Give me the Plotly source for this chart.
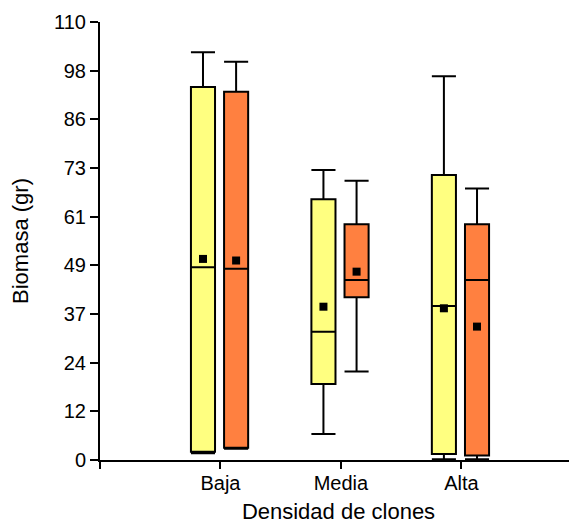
import plotly.graph_objects as go

categories = ["Baja", "Media", "Alta"]
y_tick_values = [0, 12.22, 24.44, 36.67, 48.89, 61.11, 73.33, 85.56, 97.78, 110]
y_tick_labels = ["0", "12", "24", "37", "49", "61", "73", "86", "98", "110"]

yellow_upper = [102.4, 72.8, 96.4]
yellow_q3 = [93.7, 65.5, 71.6]
yellow_median = [48.4, 32.2, 38.7]
yellow_mean = [50.5, 38.5, 38.1]
yellow_q1 = [2.1, 19.1, 1.5]
yellow_lower = [1.7, 6.5, 0.2]

orange_upper = [100.0, 70.1, 68.2]
orange_q3 = [92.5, 59.2, 59.2]
orange_median = [48.0, 45.2, 45.2]
orange_mean = [50.1, 47.3, 33.5]
orange_q1 = [3.1, 40.9, 1.1]
orange_lower = [2.8, 22.2, 0.2]

YELLOW = "#FFFF80"
ORANGE = "#FF8040"
FONT = "Liberation Sans"

idx = list(range(len(categories)))
off_y, off_o = -0.145, 0.13
xy = [i + off_y for i in idx]
xo = [i + off_o for i in idx]

fig = go.Figure()
for xs, q1, med, q3, lo, up, col in [
    (xy, yellow_q1, yellow_median, yellow_q3, yellow_lower, yellow_upper, YELLOW),
    (xo, orange_q1, orange_median, orange_q3, orange_lower, orange_upper, ORANGE),
]:
    fig.add_trace(go.Box(
        x=xs, q1=q1, median=med, q3=q3, lowerfence=lo, upperfence=up,
        width=0.2, whiskerwidth=1, fillcolor=col,
        line=dict(color="black", width=2), boxpoints=False,
        hoverinfo="skip", showlegend=False,
    ))
for xs, mean in [(xy, yellow_mean), (xo, orange_mean)]:
    fig.add_trace(go.Scatter(
        x=xs, y=mean, mode="markers",
        marker=dict(symbol="square", size=8, color="black"),
        showlegend=False, hoverinfo="skip",
    ))

# the page body adds an 8px offset, so the figure is sized to the visible area
fig.update_layout(
    width=569, height=516,
    margin=dict(l=92, r=0, t=14, b=64),
    plot_bgcolor="white", paper_bgcolor="white",
    font=dict(family=FONT, color="black"),
    xaxis=dict(
        range=[-1.0, 2.96], showgrid=False, zeroline=False, automargin=False,
        showline=True, linecolor="black", linewidth=2,
        tickvals=[-1] + idx, ticktext=[""] + categories,
        ticks="outside", ticklen=7, tickwidth=2, tickcolor="black",
        tickfont=dict(size=20), ticklabelstandoff=-3,
        title=dict(text="Densidad de clones", font=dict(size=22), standoff=19),
    ),
    yaxis=dict(
        range=[0, 110], showgrid=False, zeroline=False, automargin=False,
        showline=True, linecolor="black", linewidth=2,
        tickvals=y_tick_values, ticktext=y_tick_labels,
        ticks="outside", ticklen=8, tickwidth=2, tickcolor="black",
        tickfont=dict(size=20),
        title=dict(text="Biomasa (gr)", font=dict(size=22), standoff=19),
    ),
)
fig.write_html("out.html")
